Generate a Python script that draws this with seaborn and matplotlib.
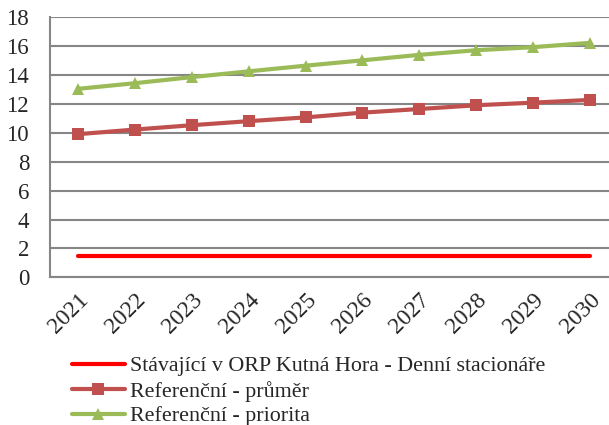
import matplotlib
matplotlib.use("Agg")
import matplotlib.pyplot as plt
import seaborn as sns
import pandas as pd

years = ["2021", "2022", "2023", "2024", "2025", "2026", "2027", "2028", "2029", "2030"]
stavajici = [1.5, 1.5, 1.5, 1.5, 1.5, 1.5, 1.5, 1.5, 1.5, 1.5]
prumer = [9.91, 10.23, 10.53, 10.81, 11.07, 11.40, 11.65, 11.91, 12.09, 12.28]
priorita = [13.05, 13.44, 13.86, 14.26, 14.65, 15.02, 15.40, 15.72, 15.93, 16.23]
labels = ["Stávající v ORP Kutná Hora - Denní stacionáře",
          "Referenční - průměr",
          "Referenční - priorita"]
y_ticks = [0, 2, 4, 6, 8, 10, 12, 14, 16, 18]

sns.set_style("white")
plt.rcParams['font.family'] = ['Liberation Serif', 'DejaVu Serif']

df = pd.DataFrame({
    "year": years * 3,
    "value": stavajici + prumer + priorita,
    "series": [labels[0]] * 10 + [labels[1]] * 10 + [labels[2]] * 10,
})

fig = plt.figure(figsize=(6.09, 4.25), dpi=100)
ax = fig.add_axes([50 / 609, (425 - 277.3) / 425, 568 / 609, 260 / 425])

colors = {labels[0]: "#FF0000", labels[1]: "#C0504D", labels[2]: "#9BBB59"}
markers = {labels[0]: "", labels[1]: "s", labels[2]: "^"}
for lab in labels:
    sub = df[df["series"] == lab]
    sns.lineplot(data=sub, x="year", y="value", ax=ax, color=colors[lab],
                 marker=markers[lab] if markers[lab] else None,
                 markersize=8 if lab == labels[1] else 9,
                 markeredgewidth=0, linewidth=3, label=lab, legend=False,
                 sort=False)

ax.set_xlim(-0.5, 9.5)
ax.set_ylim(0, 18)
ax.set_yticks(y_ticks)
ax.set_yticklabels([str(v) for v in y_ticks], fontsize=16.5)
ax.set_xticks([i - 0.5 for i in range(11)], minor=False)
ax.set_xticklabels([""] * 11)
ax.set_xticks(range(10), minor=True)
ax.set_xticklabels(years, minor=True, rotation=45, ha="right",
                   rotation_mode="anchor", fontsize=17)
ax.tick_params(axis="x", which="minor", length=0, pad=9)
ax.tick_params(axis="x", which="major", length=6, width=1.5, color="#868686",
               direction="out")
ax.tick_params(axis="y", length=7, width=1.5, color="#868686", direction="out",
               pad=8)
ax.set_xlabel("")
ax.set_ylabel("")
ax.grid(axis="y", color="#868686", linewidth=1.5)
ax.set_axisbelow(True)
for s in ["top", "right"]:
    ax.spines[s].set_visible(False)
for s in ["left", "bottom"]:
    ax.spines[s].set_color("#868686")
    ax.spines[s].set_linewidth(1.5)

handles, hl = ax.get_legend_handles_labels()
fig.legend(handles, hl, loc="upper left",
           bbox_to_anchor=(72 / 609, 1 - 356 / 425), frameon=False,
           fontsize=15.8, handlelength=2.4, handletextpad=0.25,
           labelspacing=0.2, borderaxespad=0, borderpad=0)

fig.savefig("out.png", dpi=100)
